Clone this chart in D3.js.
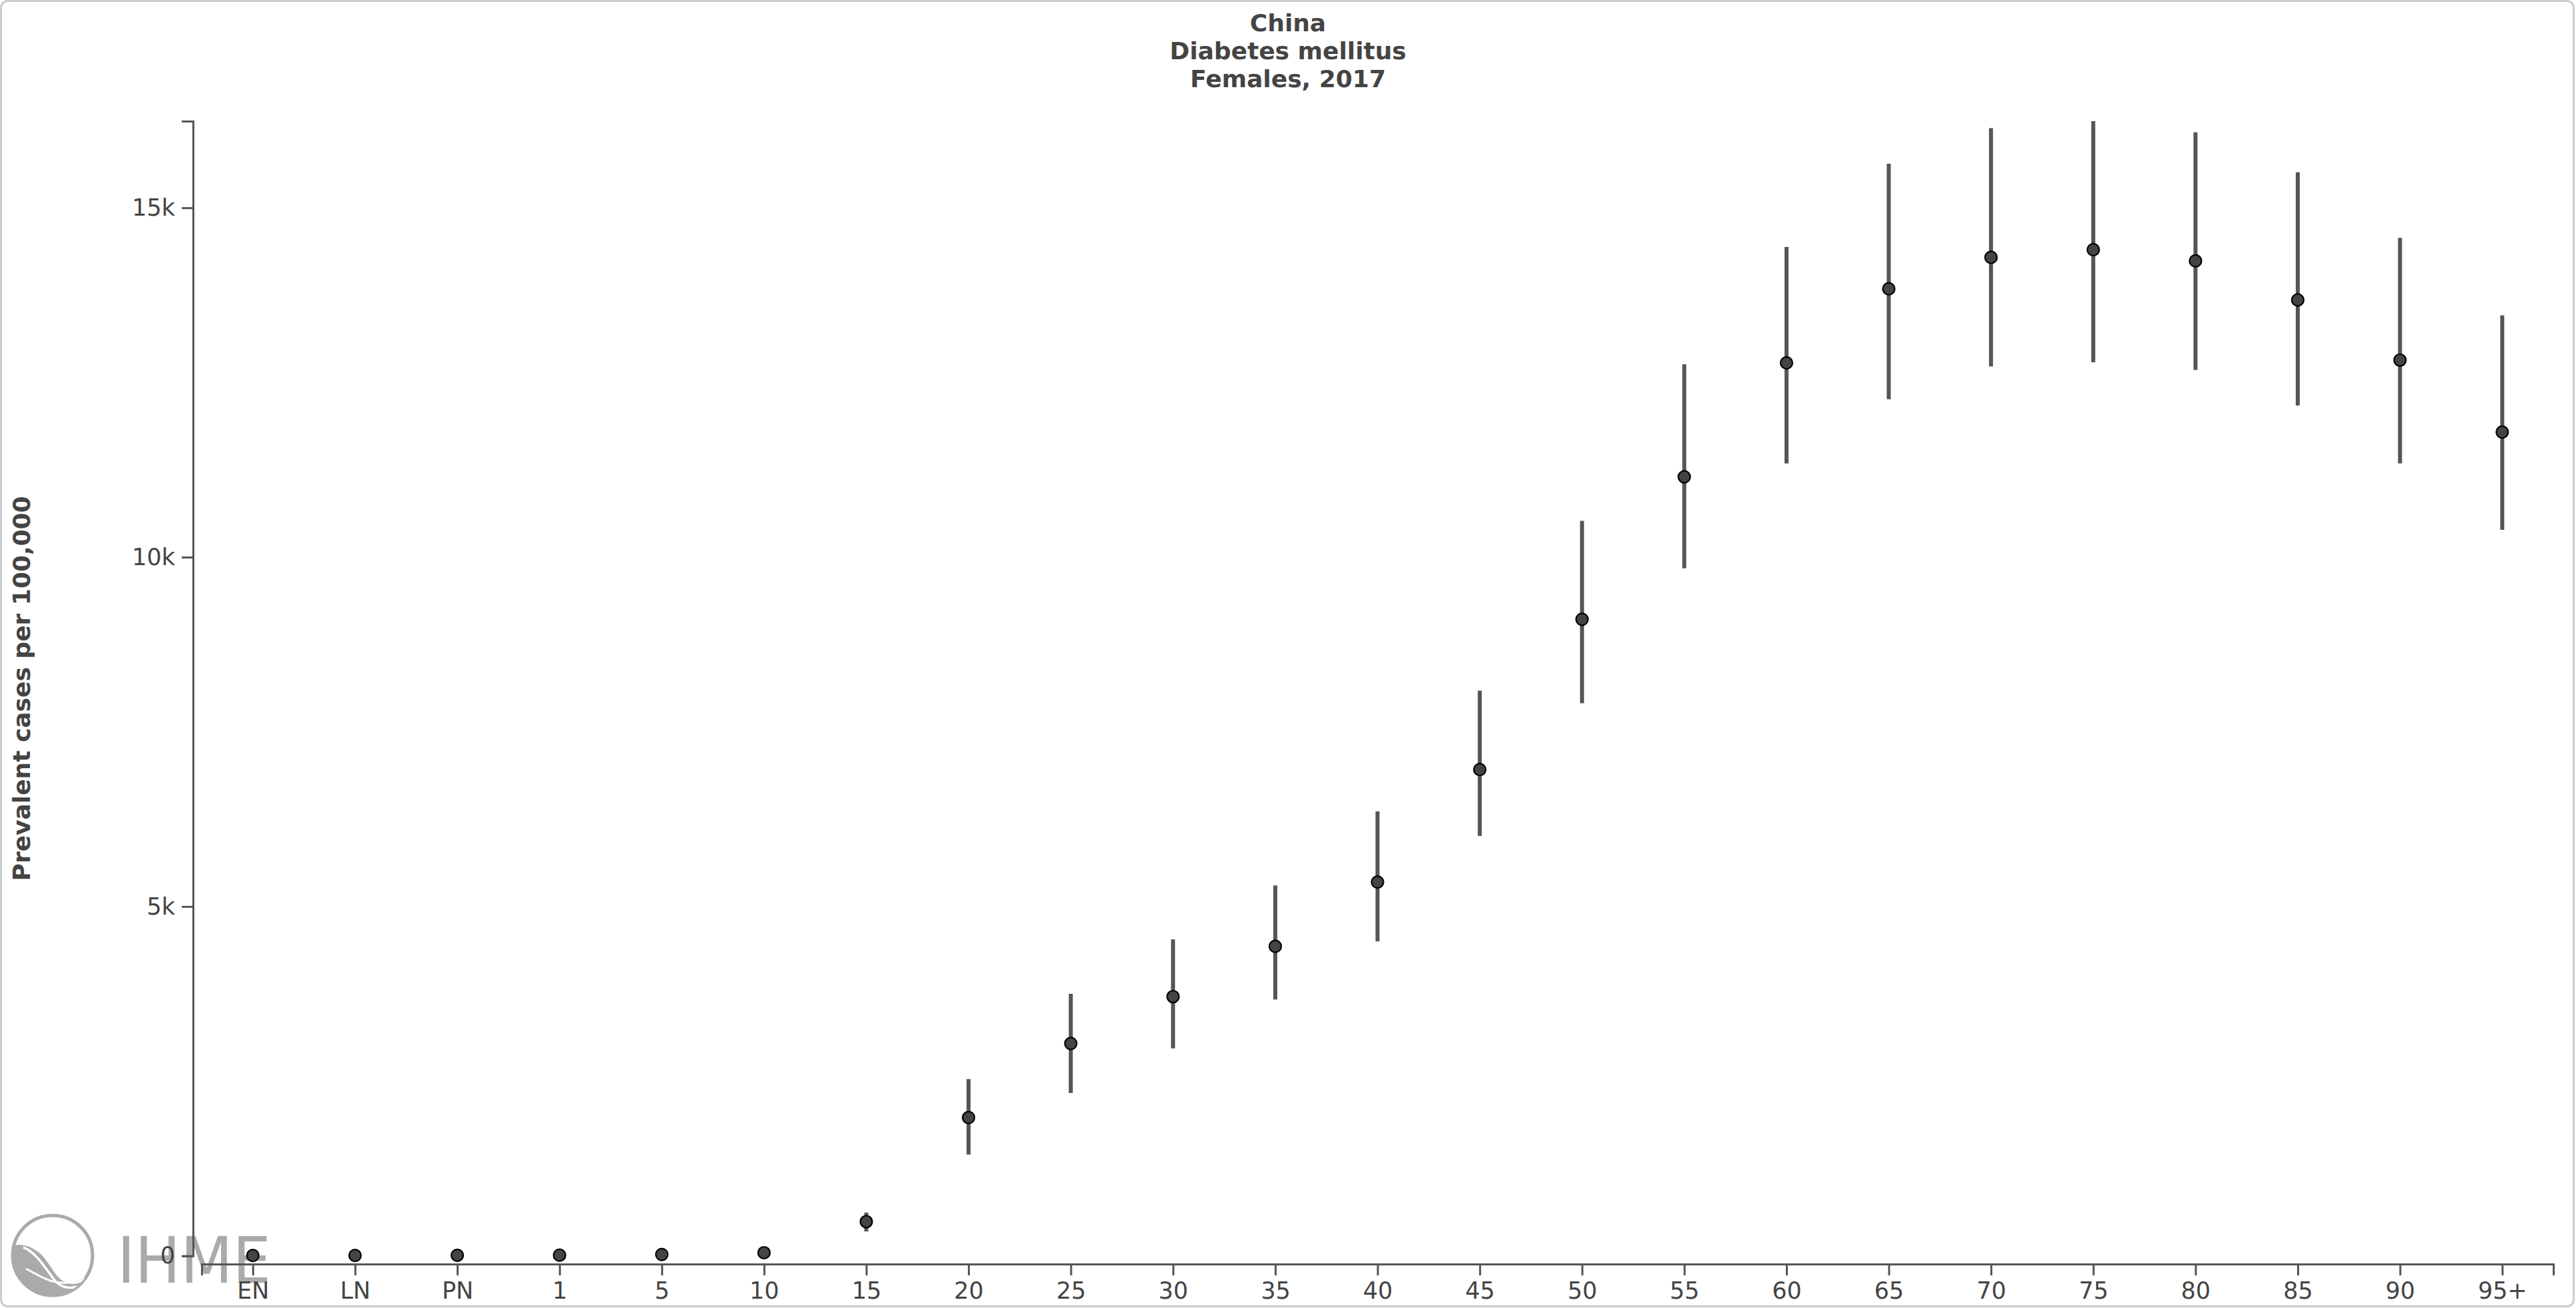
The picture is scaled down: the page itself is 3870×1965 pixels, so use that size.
<!DOCTYPE html>
<html>
<head>
<meta charset="utf-8">
<script src="https://cdn.jsdelivr.net/npm/d3@7"></script>
<style>
  html, body { margin: 0; padding: 0; background: #fff; }
  svg { display: block; }
  text { font-family: "DejaVu Sans", sans-serif; }
</style>
</head>
<body>
<svg id="chart" width="3870" height="1965"></svg>
<script>
// ---- data (prevalent cases per 100,000) ----
const ageGroups = ["EN","LN","PN","1","5","10","15","20","25","30","35","40","45","50","55","60","65","70","75","80","85","90","95+"];
const meanValues  = [5, 6, 8, 10, 20, 45, 490, 1980, 3040, 3710, 4430, 5350, 6960, 9110, 11150, 12780, 13840, 14290, 14400, 14240, 13680, 12820, 11790];
const lowerValues = [3, 4, 5, 7, 14, 33, 350, 1450, 2330, 2970, 3670, 4500, 6010, 7910, 9840, 11340, 12260, 12730, 12790, 12680, 12170, 11340, 10390];
const upperValues = [8, 9, 12, 14, 28, 60, 620, 2530, 3750, 4530, 5300, 6360, 8090, 10520, 12760, 14440, 15630, 16140, 16240, 16080, 15510, 14570, 13460];
const yTickValues = [0, 5000, 10000, 15000];
const titleLines = ["China", "Diabetes mellitus", "Females, 2017"];
const yAxisTitle = "Prevalent cases per 100,000";

const rows = ageGroups.map((a, i) => ({ age: a, mean: meanValues[i], lower: lowerValues[i], upper: upperValues[i] }));

const W = 3870, H = 1965;
const svg = d3.select("#chart");
const axisColor = "#555";
const textColor = "#444";

// border
svg.append("rect")
  .attr("x", 1.5).attr("y", 1.5)
  .attr("width", W - 5).attr("height", H - 4)
  .attr("rx", 10).attr("ry", 10)
  .attr("fill", "#fff").attr("stroke", "#ccc").attr("stroke-width", 3);

// scales
const x = d3.scalePoint().domain(ageGroups).range([303, 3836]).padding(0.5);
const y = d3.scaleLinear().domain([0, d3.max(upperValues)]).range([1886.7, 182]);

// IHME watermark logo (drawn beneath the chart marks)
const defs = svg.append("defs");
defs.append("clipPath").attr("id", "logoClip").append("circle").attr("r", 59);
const logo = svg.append("g").attr("transform", "translate(79,1886)");
logo.append("circle").attr("r", 60).attr("fill", "none").attr("stroke", "#aaa").attr("stroke-width", 5);
const inner = logo.append("g").attr("clip-path", "url(#logoClip)");
inner.append("path")
  .attr("d", "M-62,-14 C-38,-22 -14,-4 2,22 C14,40 30,44 46,34 C54,28 58,22 62,18 L62,62 L-62,62 Z")
  .attr("fill", "#aaa");
inner.append("path")
  .attr("d", "M-52,-24 C-30,-24 -12,-2 4,24 C16,42 34,48 56,30")
  .attr("fill", "none").attr("stroke", "#fff").attr("stroke-width", 4);
inner.append("path")
  .attr("d", "M-44,-12 C-26,-6 -10,20 2,36 C14,52 30,50 50,44")
  .attr("fill", "none").attr("stroke", "#fff").attr("stroke-width", 3.5);
inner.append("path")
  .attr("d", "M-40,20 C-20,30 0,46 30,40")
  .attr("fill", "none").attr("stroke", "#fff").attr("stroke-width", 3);
svg.append("text")
  .attr("x", 176).attr("y", 1927)
  .attr("font-family", "Lato, 'DejaVu Sans', sans-serif")
  .attr("font-weight", 400)
  .attr("font-size", 96)
  .attr("textLength", 231)
  .attr("lengthAdjust", "spacingAndGlyphs")
  .attr("fill", "#aaa")
  .text("IHME");

// title
const title = svg.append("text")
  .attr("x", W / 2).attr("y", 48)
  .attr("text-anchor", "middle")
  .attr("font-weight", "bold")
  .attr("font-size", 36)
  .attr("fill", textColor);
titleLines.forEach((t, i) => {
  title.append("tspan").attr("x", W / 2).attr("y", 47 + i * 42).text(t);
});

// y axis title
svg.append("text")
  .attr("transform", `translate(45, ${(y.range()[0] + y.range()[1]) / 2}) rotate(-90)`)
  .attr("text-anchor", "middle")
  .attr("font-weight", "bold")
  .attr("font-size", 36)
  .attr("fill", textColor)
  .text(yAxisTitle);

// axes
function styleAxis(g) {
  g.selectAll("path.domain").attr("stroke", axisColor).attr("stroke-width", 3);
  g.selectAll(".tick line").attr("stroke", axisColor).attr("stroke-width", 3);
  g.selectAll(".tick text").attr("fill", textColor).attr("font-size", 35)
    .attr("font-family", "DejaVu Sans, sans-serif");
}

const yAxis = d3.axisLeft(y).tickValues(yTickValues)
  .tickFormat(d => d === 0 ? "0" : d3.format("~s")(d))
  .tickSize(17).tickPadding(10);
svg.append("g").attr("transform", "translate(290,0)").call(yAxis).call(styleAxis);

const xAxis = d3.axisBottom(x).tickSize(17).tickPadding(10);
svg.append("g").attr("transform", "translate(0,1899)").call(xAxis).call(styleAxis);

// whiskers
svg.append("g").selectAll("line").data(rows).join("line")
  .attr("x1", d => x(d.age)).attr("x2", d => x(d.age))
  .attr("y1", d => y(d.lower)).attr("y2", d => y(d.upper))
  .attr("stroke", "#555").attr("stroke-width", 6);

// points
svg.append("g").selectAll("circle").data(rows).join("circle")
  .attr("cx", d => x(d.age)).attr("cy", d => y(d.mean))
  .attr("r", 9)
  .attr("fill", "#444").attr("stroke", "#000").attr("stroke-width", 2.2);
</script>
</body>
</html>
